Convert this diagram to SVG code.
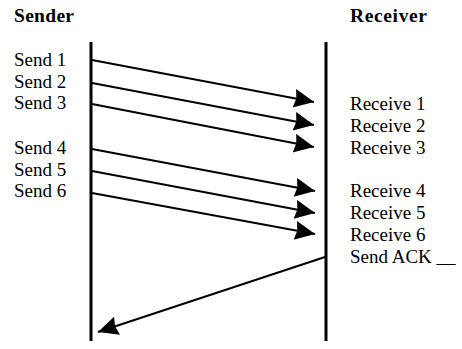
<svg xmlns="http://www.w3.org/2000/svg" width="462" height="349" viewBox="0 0 462 349">
<style>
text{font-family:"Liberation Serif","Times New Roman",serif;font-size:19px;fill:#000}
.h{font-weight:bold;font-size:19.5px}
.life{stroke:#000;stroke-width:3}
.msg{stroke:#000;stroke-width:2;fill:none;marker-end:url(#ah)}
</style>
<defs>
<marker id="ah" markerUnits="userSpaceOnUse" markerWidth="21" markerHeight="20" refX="20" refY="9.5" orient="auto">
<path d="M0,0 L20,9.5 L0,19 L2,9.5 Z" fill="#000"/>
</marker>
</defs>
<rect width="462" height="349" fill="#fff"/>
<g id="sender">
<text class="h" x="14" y="22" textLength="60">Sender</text>
<line class="life" x1="91" y1="42" x2="91" y2="341"/>
<text x="14" y="66">Send 1</text>
<text x="14" y="88">Send 2</text>
<text x="14" y="109">Send 3</text>
<text x="14" y="154">Send 4</text>
<text x="14" y="176">Send 5</text>
<text x="14" y="197">Send 6</text>
</g>
<g id="receiver">
<text class="h" x="350" y="22" textLength="77">Receiver</text>
<line class="life" x1="326" y1="42" x2="326" y2="341"/>
<text x="350" y="110">Receive 1</text>
<text x="350" y="132">Receive 2</text>
<text x="350" y="154">Receive 3</text>
<text x="350" y="197">Receive 4</text>
<text x="350" y="219">Receive 5</text>
<text x="350" y="241">Receive 6</text>
<text x="350" y="263">Send ACK __</text>
</g>
<g id="connectors">
<line class="msg" x1="92" y1="60" x2="314" y2="102"/>
<line class="msg" x1="92" y1="83" x2="314" y2="125"/>
<line class="msg" x1="92" y1="104" x2="314" y2="147"/>
<line class="msg" x1="92" y1="149" x2="315" y2="191"/>
<line class="msg" x1="92" y1="171" x2="315" y2="213"/>
<line class="msg" x1="92" y1="193" x2="315" y2="234"/>
<line class="msg" x1="325" y1="257" x2="98" y2="332"/>
</g>
</svg>
